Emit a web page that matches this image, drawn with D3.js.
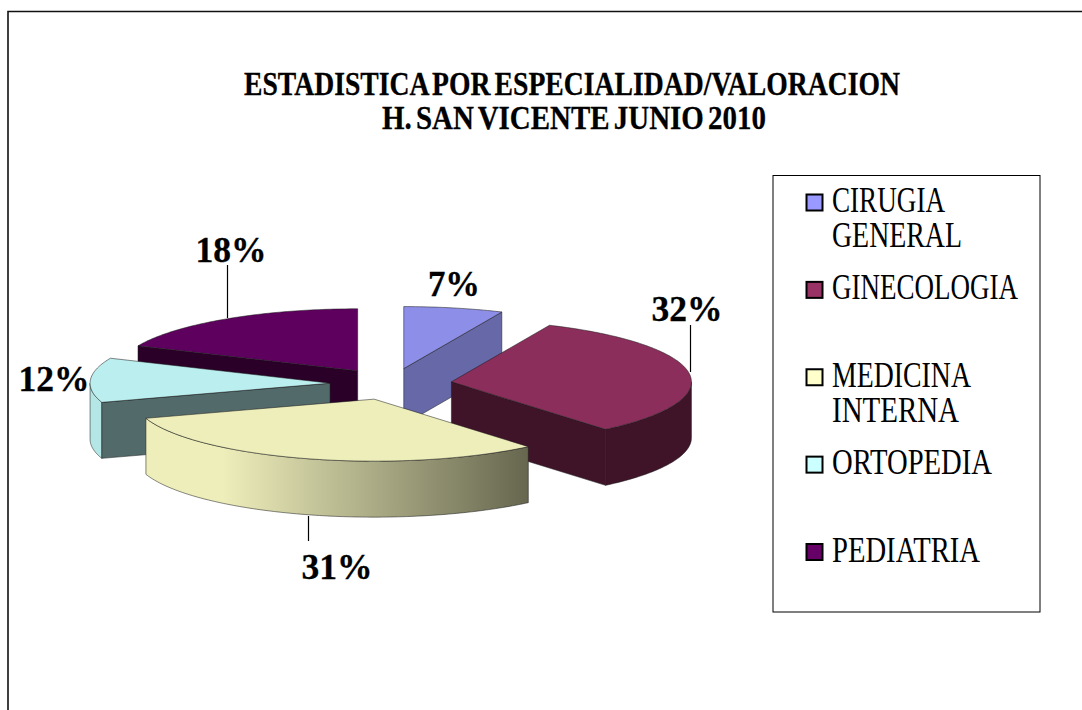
<!DOCTYPE html>
<html><head><meta charset="utf-8">
<script src="https://cdnjs.cloudflare.com/ajax/libs/d3/7.8.5/d3.min.js"></script>
<style>html,body{margin:0;padding:0;background:#fff}svg{display:block}text{font-family:"Liberation Serif",serif;fill:#000}</style>
</head><body><div id="chart"></div>
<script>
const categories = ["CIRUGIA GENERAL","GINECOLOGIA","MEDICINA INTERNA","ORTOPEDIA","PEDIATRIA"];
const values = [6.7,32.2,31.1,11.6,18.4];
const legendColors = ["#9999FF","#993366","#FFFFCC","#CCFFFF","#660066"];
const topColors = ["#8d8ee8","#8c2e5c","#eeeebb","#bbeeee","#5e005e"];
const cutColors = ["#6668a8","#3f1328","#66664f","#526a6a","#2a0028"];
const legendLines = [["CIRUGIA","GENERAL"],["GINECOLOGIA"],["MEDICINA","INTERNA"],["ORTOPEDIA"],["PEDIATRIA"]];
const legendWidths = [[113,130],[186],[139,127],[160],[148]];
const titleLines = ["ESTADISTICA POR ESPECIALIDAD/VALORACION","H. SAN VICENTE JUNIO 2010"];

const W=1082,H=710, cx=391, cy=384, rx=240, ry=62, depth=56, explode=61;
const svg=d3.select("#chart").append("svg").attr("width",W).attr("height",H);
const defs=svg.append("defs");
const g=defs.append("linearGradient").attr("id","medGrad").attr("gradientUnits","userSpaceOnUse")
  .attr("x1",146).attr("x2",529).attr("y1",0).attr("y2",0);
[[0,"#eeeebb"],[.2,"#eeeebb"],[1,"#66664f"]].forEach(s=>g.append("stop").attr("offset",s[0]).attr("stop-color",s[1]));

// frame: left and top rules only, the top one runs off the right edge
svg.append("path").attr("d",`M8,710V11.5H1082`).attr("fill","none").attr("stroke","#111").attr("stroke-width",1.6);

// title
titleLines.forEach((t,i)=>{
  svg.append("text").attr("x",i?574:572).attr("y",i?129:95).attr("text-anchor","middle")
   .attr("font-weight","bold").attr("font-size",34).attr("word-spacing",-3.5)
   .attr("stroke","#000").attr("stroke-width",.3)
   .attr("textLength",i?384:656).attr("lengthAdjust","spacingAndGlyphs").text(t);
});

// pie
const arcs=d3.pie().sort(null).value(d=>d)(values);
const sx=d3.scaleLinear().domain([-1,1]).range([-rx,rx]);
const sy=d3.scaleLinear().domain([-1,1]).range([ry,-ry]);
const line=d3.line();
function apex(a){const m=(a.startAngle+a.endAngle)/2;
  return [cx+sx(Math.sin(m)*explode/rx), cy+sy(Math.cos(m)*explode/rx)];}
function pt(a,t){const c=apex(a);return [c[0]+sx(Math.sin(t)),c[1]+sy(Math.cos(t))];}
function arcPts(a,t0,t1){const n=Math.max(2,Math.ceil(Math.abs(t1-t0)*60));
  return d3.range(n+1).map(i=>pt(a,t0+(t1-t0)*i/n));}
const down=p=>[p[0],p[1]+depth];
const edge={stroke:"#1a1a1a","stroke-width":.7,"stroke-opacity":.75};
function draw(d,fill){const p=svg.append("path").attr("d",line(d)+"Z").attr("fill",fill);
  Object.entries(edge).forEach(([k,v])=>p.attr(k,v));return p;}
const order=[4,3,0,1,2];
order.forEach(i=>{
  const a=arcs[i], A=apex(a), s=a.startAngle, e=a.endAngle;
  if(i===0){ const T=pt(a,e); draw([A,T,down(T),down(A)],cutColors[i]); }
  if(i===1){ const T=pt(a,e); draw([A,T,down(T),down(A)],cutColors[i]);
     const pts=arcPts(a,Math.PI/2,e); draw(pts.concat(pts.map(down).reverse()),cutColors[i]); }
  if(i===2){ const all=arcPts(a,s,e); draw(all.concat(all.map(down).reverse()),"url(#medGrad)"); }
  if(i===3){ const pts=arcPts(a,s,1.5*Math.PI); draw(pts.concat(pts.map(down).reverse()),"#b4e6e6");
     const T=pt(a,s); draw([A,T,down(T),down(A)],cutColors[i]); }
  if(i===4){ const T=pt(a,s); draw([A,T,down(T),down(A)],cutColors[i]); }
  draw([A].concat(arcPts(a,s,e)),topColors[i]);
});

// leaders and labels
const labels=[
 {v:0,x:454,y:296},{v:1,x:687,y:321},{v:2,x:337,y:579},{v:3,x:54,y:391},{v:4,x:231,y:262}];
labels.forEach(l=>{const t=Math.round(values[l.v])+"%";
  svg.append("text").attr("x",l.x).attr("y",l.y).attr("text-anchor","middle")
  .attr("font-weight","bold").attr("font-size",36).attr("stroke","#000").attr("stroke-width",.3)
  .attr("textLength",t.length<3?52:71).attr("lengthAdjust","spacingAndGlyphs").text(t);});
[[227.5,265,318],[690.5,325,372],[308.5,516,541]].forEach(([x,y1,y2])=>
  svg.append("line").attr("x1",x).attr("x2",x).attr("y1",y1).attr("y2",y2).attr("stroke","#000").attr("stroke-width",1.2));

// legend
svg.append("rect").attr("x",773).attr("y",175.5).attr("width",267).attr("height",436.5).attr("fill","#fff").attr("stroke","#000").attr("stroke-width",1);
const ly=d3.scaleLinear().domain([0,4]).range([194,543.5]);
categories.forEach((c,i)=>{
  svg.append("rect").attr("x",806.5).attr("y",ly(i)+.5).attr("width",16).attr("height",16)
    .attr("fill",legendColors[i]).attr("stroke","#000").attr("stroke-width",2);
  const tx=svg.append("text").attr("font-size",35);
  legendLines[i].forEach((t,j)=>tx.append("tspan").attr("x",832).attr("y",ly(i)+18+j*35)
    .attr("textLength",legendWidths[i][j]).attr("lengthAdjust","spacingAndGlyphs").text(t));
});
</script></body></html>
